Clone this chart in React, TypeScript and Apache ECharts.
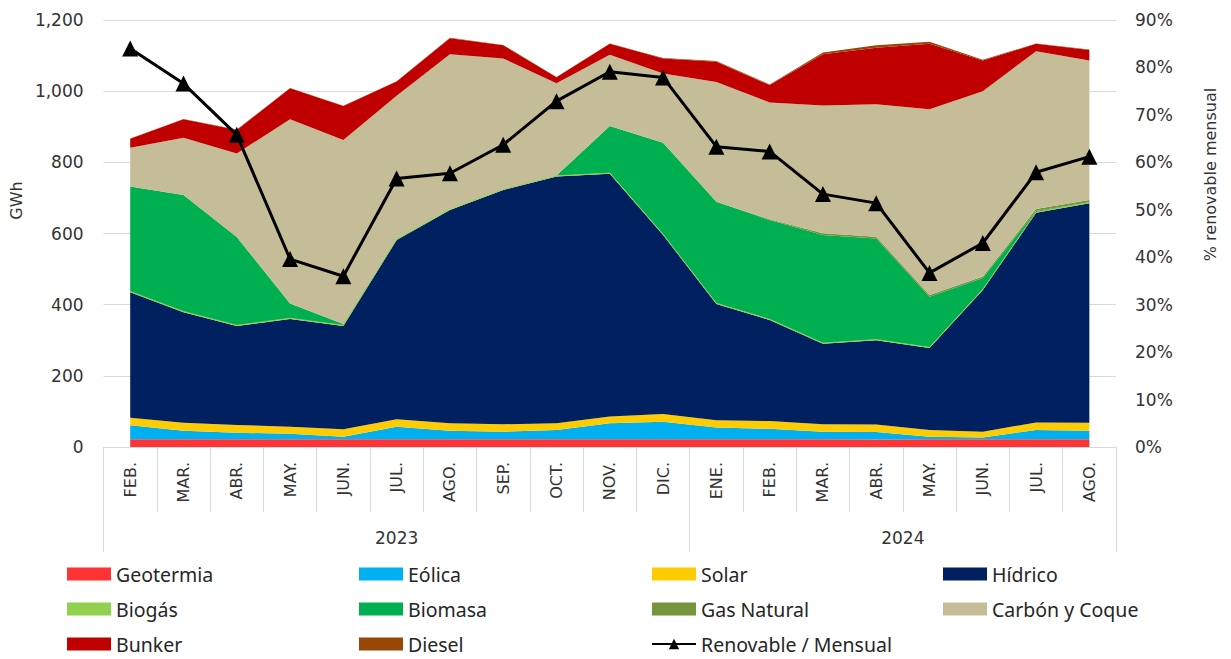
import React, { useEffect, useRef } from "react";
import * as echarts from "echarts";

const months = ["FEB.", "MAR.", "ABR.", "MAY.", "JUN.", "JUL.", "AGO.", "SEP.", "OCT.", "NOV.", "DIC.", "ENE.", "FEB.", "MAR.", "ABR.", "MAY.", "JUN.", "JUL.", "AGO."];
const years = ["2023", "2024"];
const monthsPerYear = [11, 8];

const geotermia = [22, 22, 22, 22, 22, 22, 22, 22, 22, 22, 22, 22, 22, 22, 21, 22, 22, 22, 22];
const eolica = [39, 24, 18, 15, 7, 35, 24, 21, 26, 45, 49, 33, 29, 21, 21, 7, 5, 26, 24];
const solar = [21, 22, 22, 20, 21, 21, 21, 21, 19, 19, 22, 20, 22, 21, 21, 19, 16, 21, 22];
const hidrico = [353, 311, 278, 303, 290, 504, 599, 658, 693, 682, 503, 327, 284, 226, 237, 230, 398, 589, 617];
const biogas = [2, 2, 2, 2, 2, 2, 2, 2, 2, 2, 2, 2, 2, 2, 2, 2, 2, 2, 2];
const biomasa = [295, 327, 248, 41, 4, 1, 0, 0, 1, 132, 257, 285, 279, 304, 284, 142, 32, 3, 1];
const gasNatural = [0, 0, 0, 0, 0, 0, 0, 0, 0, 0, 0, 0, 2, 5, 5, 5, 4, 6, 6];
const carbon = [109, 161, 235, 518, 517, 402, 436, 368, 259, 200, 195, 337, 328, 359, 372, 522, 521, 443, 392];
const bunker = [25, 52, 66, 87, 95, 40, 45, 37, 17, 31, 42, 57, 49, 144, 159, 184, 86, 21, 30];
const diesel = [1, 1, 1, 1, 1, 1, 1, 1, 1, 1, 1, 2, 2, 5, 7, 6, 2, 1, 1];
const renovable = [84.0, 76.6, 65.8, 39.6, 36.0, 56.6, 57.7, 63.7, 72.9, 79.1, 77.9, 63.3, 62.3, 53.3, 51.4, 36.7, 43.0, 57.9, 61.2];

const gwhTicks = { min: 0, max: 1200, interval: 200 };
const pctTicks = { min: 0, max: 90, interval: 10 };

const areaDefs = [
  { name: "Geotermia", data: geotermia, color: "#FF3333", line: 0 },
  { name: "Eólica", data: eolica, color: "#00B0F0", line: 0 },
  { name: "Solar", data: solar, color: "#FFCC00", line: 0 },
  { name: "Hídrico", data: hidrico, color: "#002060", line: 0 },
  { name: "Biogás", data: biogas, color: "#92D050", line: 0.8 },
  { name: "Biomasa", data: biomasa, color: "#00B050", line: 0 },
  { name: "Gas Natural", data: gasNatural, color: "#77933C", line: 0 },
  { name: "Carbón y Coque", data: carbon, color: "#C4BD97", line: 0 },
  { name: "Bunker", data: bunker, color: "#C00000", line: 0 },
  { name: "Diesel", data: diesel, color: "#974706", line: 0 },
];
const lineName = "Renovable / Mensual";

const legendColumns = [
  ["Geotermia", "Biogás", "Bunker"],
  ["Eólica", "Biomasa", "Diesel"],
  ["Solar", "Gas Natural", lineName],
  ["Hídrico", "Carbón y Coque"],
];
const legendLefts = [67, 359, 651, 943];

const axisFont = "'DejaVu Sans', sans-serif";
const legendFont = "'Noto Sans', sans-serif";
const textColor = "#333333";
const gridColor = "#d9d9d9";

export default function App() {
  const ref = useRef<HTMLDivElement>(null);

  useEffect(() => {
    if (!ref.current) return;
    const chart = echarts.init(ref.current, undefined, { renderer: "svg" });

    const yearBounds: number[] = [0];
    monthsPerYear.forEach((n) => yearBounds.push(yearBounds[yearBounds.length - 1] + n));
    const yearCenters = monthsPerYear.map((n, i) => yearBounds[i] + n / 2);

    const series: any[] = areaDefs.map((d) => ({
      name: d.name,
      type: "line",
      stack: "gen",
      data: d.data,
      symbol: "none",
      color: d.color,
      itemStyle: { color: d.color },
      lineStyle: { width: d.line, color: d.color },
      areaStyle: { color: d.color, opacity: 1 },
      emphasis: { disabled: true },
      z: 2,
    }));
    series.push({
      name: lineName,
      type: "line",
      yAxisIndex: 1,
      data: renovable,
      color: "#000000",
      itemStyle: { color: "#000000" },
      lineStyle: { width: 3, color: "#000000" },
      symbol: "triangle",
      symbolSize: 16,
      z: 5,
    });

    const legends = legendColumns.map((col, i) => ({
      orient: "vertical",
      left: legendLefts[i],
      top: 564,
      padding: 0,
      itemWidth: 44,
      itemHeight: 13,
      itemGap: 15,
      selectedMode: false,
      textStyle: { fontFamily: legendFont, fontSize: 19.5, color: "#262626", lineHeight: 20 },
      data: col.map((n) => (n === lineName ? { name: n } : { name: n, icon: "rect" })),
    }));

    chart.setOption({
      animation: false,
      backgroundColor: "#ffffff",
      grid: { left: 101, right: 115, top: 20, bottom: 212, containLabel: false },
      legend: legends,
      xAxis: [
        {
          type: "category",
          data: months,
          boundaryGap: true,
          axisLine: { show: true, lineStyle: { color: gridColor, width: 1 } },
          axisTick: { show: true, interval: 0, length: 65, alignWithLabel: false, lineStyle: { color: gridColor } },
          axisLabel: { interval: 0, rotate: 90, margin: 15, fontFamily: axisFont, fontSize: 16, color: textColor },
        },
        {
          type: "value",
          position: "bottom",
          min: 0,
          max: months.length,
          axisLine: { show: false },
          splitLine: { show: false },
          axisTick: { show: true, customValues: yearBounds, length: 105, lineStyle: { color: gridColor } },
          axisLabel: {
            customValues: yearCenters,
            margin: 82,
            fontFamily: axisFont,
            fontSize: 17,
            color: textColor,
            formatter: (v: number) => {
              for (let i = 0; i < years.length; i++) if (v < yearBounds[i + 1]) return years[i];
              return "";
            },
          },
        },
      ],
      yAxis: [
        {
          type: "value",
          ...gwhTicks,
          name: "GWh",
          nameLocation: "middle",
          nameGap: 76,
          nameRotate: 90,
          nameTextStyle: { fontFamily: axisFont, fontSize: 16, color: textColor, padding: [0, 0, 0, 66] },
          axisLine: { show: false },
          axisTick: { show: false },
          axisLabel: {
            margin: 20,
            fontFamily: axisFont,
            fontSize: 17,
            color: textColor,
            formatter: (v: number) => v.toLocaleString("en-US"),
          },
          splitLine: { show: true, lineStyle: { color: gridColor, width: 1 } },
        },
        {
          type: "value",
          ...pctTicks,
          position: "right",
          name: "% renovable mensual",
          nameLocation: "middle",
          nameGap: 86,
          nameRotate: 90,
          nameTextStyle: { fontFamily: axisFont, fontSize: 16, color: textColor, padding: [0, 0, 0, 118] },
          axisLine: { show: false },
          axisTick: { show: false },
          axisLabel: { margin: 19, fontFamily: axisFont, fontSize: 17, color: textColor, formatter: "{value}%" },
          splitLine: { show: false },
        },
      ],
      series,
    });

    return () => chart.dispose();
  }, []);

  return (
    <div
      ref={ref}
      style={{ position: "fixed", left: 0, top: 0, width: 1231, height: 659, background: "#fff" }}
    />
  );
}
